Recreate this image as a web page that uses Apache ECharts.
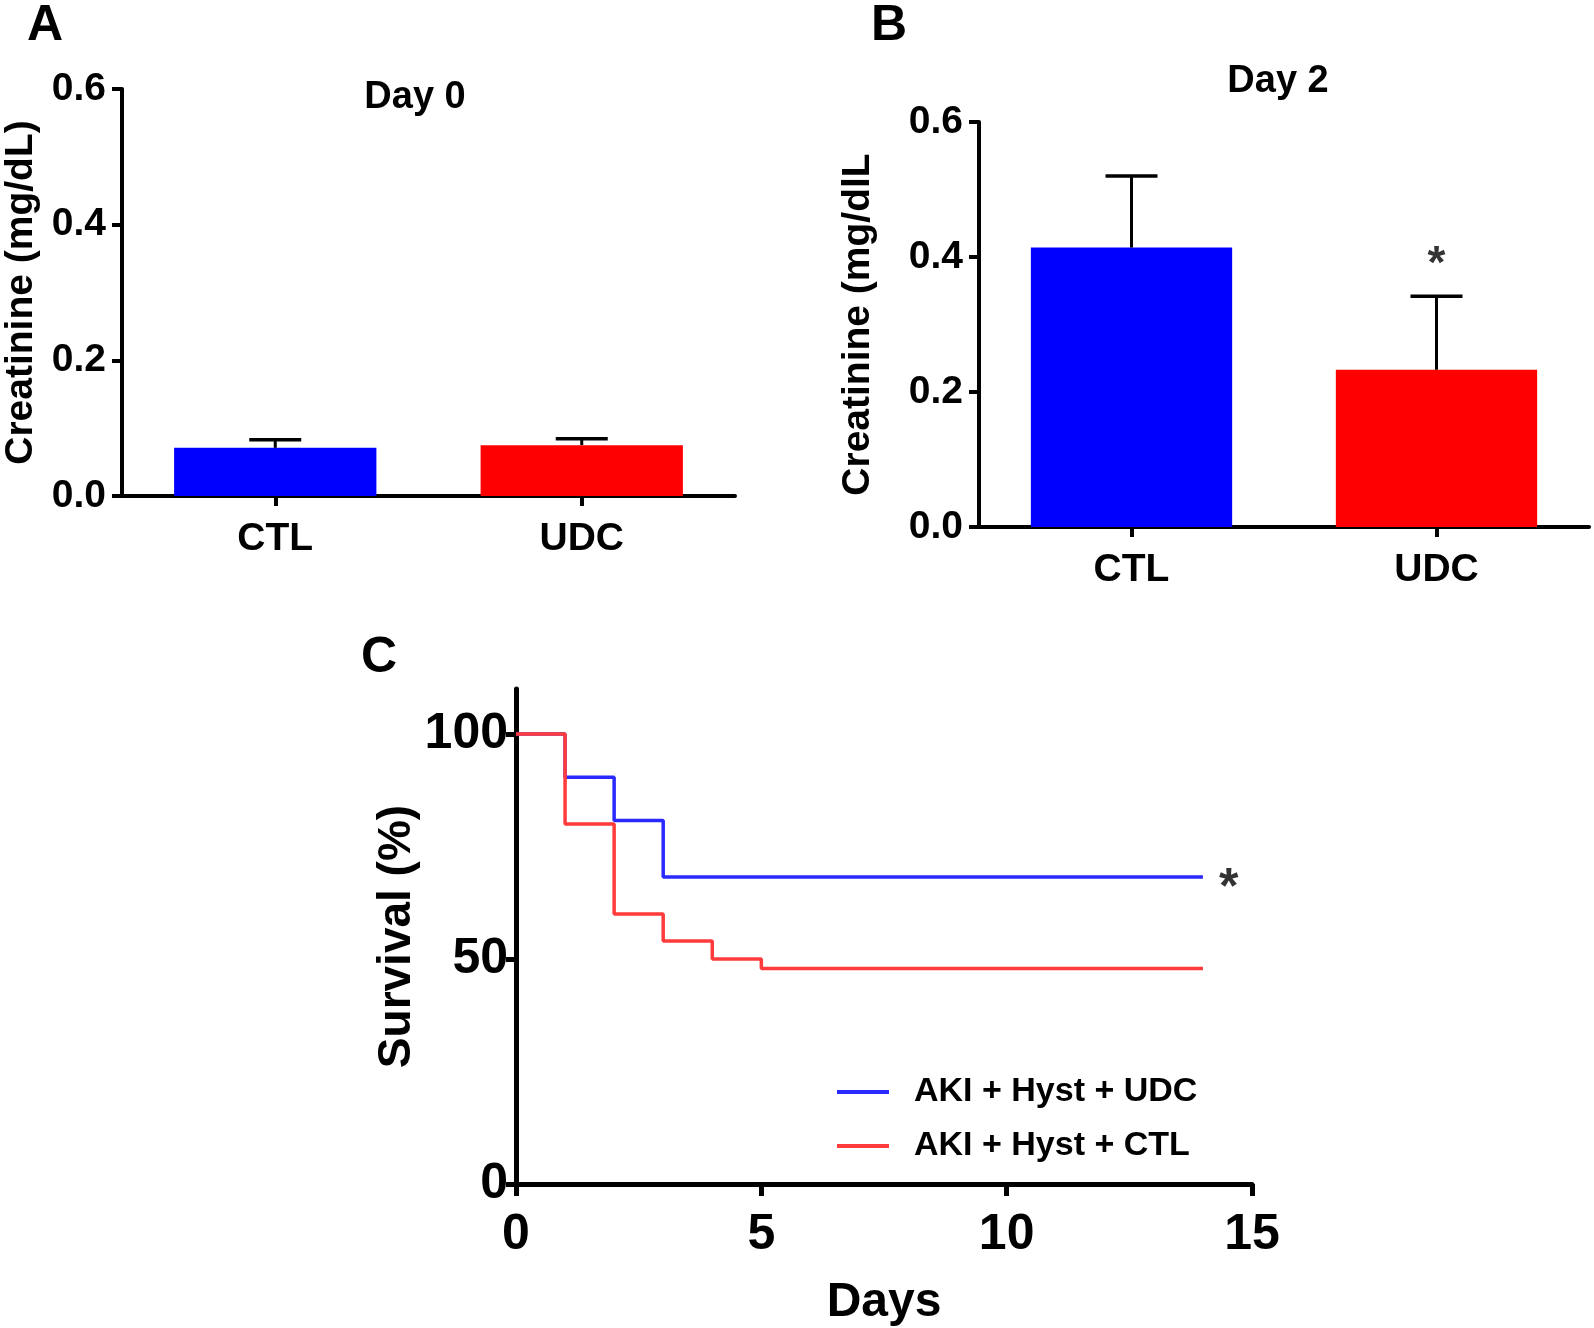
<!DOCTYPE html>
<html>
<head>
<meta charset="utf-8">
<script src="https://cdn.jsdelivr.net/npm/echarts@6/dist/echarts.min.js"></script>
<style>
html,body{margin:0;padding:0;background:#fff;}
#chart{width:1594px;height:1328px;}
</style>
</head>
<body>
<div id="chart"></div>
<script>
// ---- data ----
const categories = ['CTL', 'UDC'];
const day0Mean = [0.071, 0.075];
const day0Err = [0.012, 0.0095];
const day2Mean = [0.414, 0.233];
const day2Err = [0.106, 0.109];
const survUDC = [[0, 100], [1, 90.4], [2, 80.8], [3, 68.2], [14, 68.2]];
const survCTL = [[0, 100], [1, 80], [2, 60], [3, 54], [4, 50], [5, 47.9], [14, 47.9]];
const survTicksY = [0, 50, 100];
const seriesNames = ['AKI + Hyst + UDC', 'AKI + Hyst + CTL'];

const FONT = "'Liberation Sans', Arial, sans-serif";
const BLUE = '#0000ff', RED = '#ff0000';
const LBLUE = '#2a2aff', LRED = '#ff3b3b';

function errBar(halfCap) {
  return function (params, api) {
    const x = api.value(0), m = api.value(1), e = api.value(2);
    const b = api.coord([x, m]);
    const t = api.coord([x, m + e]);
    return {
      type: 'group',
      children: [
        {type: 'line', shape: {x1: b[0], y1: b[1], x2: t[0], y2: t[1]}, style: {stroke: '#000', lineWidth: 3}},
        {type: 'line', shape: {x1: t[0] - halfCap, y1: t[1], x2: t[0] + halfCap, y2: t[1]}, style: {stroke: '#000', lineWidth: 3.5}}
      ]
    };
  };
}

function catAxis(gi) {
  return {
    type: 'category', gridIndex: gi, data: categories,
    axisLine: {show: true, lineStyle: {color: '#000', width: 4}},
    axisTick: {show: true, alignWithLabel: true, length: 10, lineStyle: {color: '#000', width: 4}},
    axisLabel: {color: '#000', fontFamily: FONT, fontWeight: 'bold', fontSize: 39, margin: 24},
    splitLine: {show: false}
  };
}
function creatAxis(gi, gap, name) {
  return {
    type: 'value', gridIndex: gi, min: 0, max: 0.6, interval: 0.2,
    name: name, nameLocation: 'middle', nameGap: gap,
    nameTextStyle: {color: '#000', fontFamily: FONT, fontWeight: 'bold', fontSize: 39},
    axisLine: {show: true, lineStyle: {color: '#000', width: 4}},
    axisTick: {show: true, length: 10, lineStyle: {color: '#000', width: 4}},
    axisLabel: {color: '#000', fontFamily: FONT, fontWeight: 'bold', fontSize: 39, margin: 16,
      formatter: v => v.toFixed(1)},
    splitLine: {show: false}
  };
}

const chart = echarts.init(document.getElementById('chart'), null, {renderer: 'canvas'});
const option = {
  backgroundColor: '#fff',
  animation: false,
  title: [
    {text: 'Day 0', left: 410, top: 74, textAlign: 'center', textStyle: {fontFamily: FONT, fontWeight: 'bold', fontSize: 38, color: '#000'}},
    {text: 'Day 2', left: 1273, top: 58, textAlign: 'center', textStyle: {fontFamily: FONT, fontWeight: 'bold', fontSize: 38, color: '#000'}},
    {text: 'A', left: 22, top: -4, textStyle: {fontFamily: FONT, fontWeight: 'bold', fontSize: 50, color: '#000'}},
    {text: 'B', left: 866, top: -4, textStyle: {fontFamily: FONT, fontWeight: 'bold', fontSize: 50, color: '#000'}},
    {text: 'C', left: 356, top: 628, textStyle: {fontFamily: FONT, fontWeight: 'bold', fontSize: 50, color: '#000'}}
  ],
  legend: {
    data: seriesNames, orient: 'vertical', left: 832, top: 1070, itemGap: 20,
    itemWidth: 52, itemHeight: 4, icon: 'rect',
    textStyle: {fontFamily: FONT, fontWeight: 'bold', fontSize: 34, color: '#000', padding: [0, 0, 0, 20]}
  },
  grid: [
    {left: 122, top: 89, width: 613, height: 407, outerBoundsMode: 'none', containLabel: false},
    {left: 979, top: 122, width: 610, height: 405, outerBoundsMode: 'none', containLabel: false},
    {left: 516, top: 689, width: 736, height: 495, outerBoundsMode: 'none', containLabel: false}
  ],
  xAxis: [
    catAxis(0),
    catAxis(1),
    {
      type: 'value', gridIndex: 2, min: 0, max: 15, interval: 5,
      name: 'Days', nameLocation: 'middle', nameGap: 95,
      nameTextStyle: {color: '#000', fontFamily: FONT, fontWeight: 'bold', fontSize: 48},
      axisLine: {show: true, lineStyle: {color: '#000', width: 5}},
      axisTick: {show: true, length: 12, lineStyle: {color: '#000', width: 5}},
      axisLabel: {color: '#000', fontFamily: FONT, fontWeight: 'bold', fontSize: 50, margin: 26},
      splitLine: {show: false}
    }
  ],
  yAxis: [
    creatAxis(0, 81, 'Creatinine (mg/dL)'),
    creatAxis(1, 101, 'Creatinine (mg/dlL'),
    {
      type: 'value', gridIndex: 2, min: 0, max: 110, interval: 50,
      name: 'Survival (%)', nameLocation: 'middle', nameGap: 96,
      nameTextStyle: {color: '#000', fontFamily: FONT, fontWeight: 'bold', fontSize: 46},
      axisLine: {show: true, lineStyle: {color: '#000', width: 5}},
      axisTick: {show: true, length: 10, lineStyle: {color: '#000', width: 5}, customValues: survTicksY},
      axisLabel: {color: '#000', fontFamily: FONT, fontWeight: 'bold', fontSize: 50, margin: 8, customValues: survTicksY},
      splitLine: {show: false}
    }
  ],
  series: [
    {type: 'bar', xAxisIndex: 0, yAxisIndex: 0, barWidth: '66%',
      data: day0Mean.map((v, i) => ({value: v, itemStyle: {color: i === 0 ? BLUE : RED}}))},
    {type: 'custom', xAxisIndex: 0, yAxisIndex: 0, renderItem: errBar(26), z: 5,
      data: day0Mean.map((v, i) => [i, v, day0Err[i]])},
    {type: 'bar', xAxisIndex: 1, yAxisIndex: 1, barWidth: '66%',
      data: day2Mean.map((v, i) => ({value: v, itemStyle: {color: i === 0 ? BLUE : RED}}))},
    {type: 'custom', xAxisIndex: 1, yAxisIndex: 1, renderItem: errBar(26), z: 5,
      data: day2Mean.map((v, i) => [i, v, day2Err[i]])},
    {type: 'scatter', xAxisIndex: 1, yAxisIndex: 1, symbolSize: 0, silent: true,
      data: [[1, day2Mean[1] + day2Err[1]]],
      label: {show: true, formatter: '*', position: 'top', distance: 16, offset: [0, 8],
        fontFamily: FONT, fontWeight: 'bold', fontSize: 46, color: '#000'}},
    {name: seriesNames[0], type: 'line', xAxisIndex: 2, yAxisIndex: 2, step: 'end', symbol: 'none',
      data: survUDC, color: LBLUE, lineStyle: {color: LBLUE, width: 3.5}},
    {name: seriesNames[1], type: 'line', xAxisIndex: 2, yAxisIndex: 2, step: 'end', symbol: 'none',
      data: survCTL, color: LRED, lineStyle: {color: LRED, width: 3.5}},
    {type: 'scatter', xAxisIndex: 2, yAxisIndex: 2, symbolSize: 0, silent: true,
      data: [survUDC[survUDC.length - 1]],
      label: {show: true, formatter: '*', position: 'right', distance: 16, offset: [0, 12],
        fontFamily: FONT, fontWeight: 'bold', fontSize: 50, color: '#000'}}
  ]
};
chart.setOption(option);
</script>
</body>
</html>
